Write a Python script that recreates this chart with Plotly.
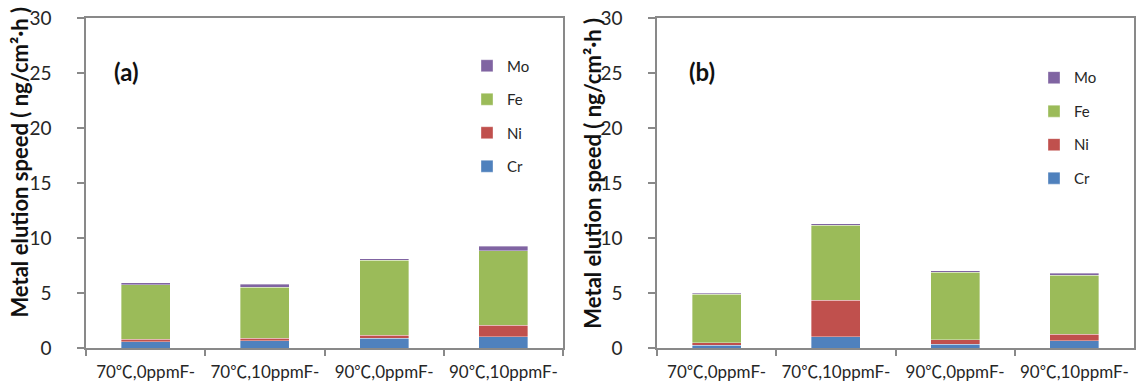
import plotly.graph_objects as go

categories = ["70℃,0ppmF-", "70℃,10ppmF-", "90℃,0ppmF-", "90℃,10ppmF-"]
metals = ["Cr", "Ni", "Fe", "Mo"]
metal_colors = ["#4F81BD", "#C0504D", "#9BBB59", "#8064A2"]
legend_ranks = [4, 3, 2, 1]

# Panel (a)
a_cr = [0.55, 0.65, 0.90, 1.02]
a_ni = [0.25, 0.25, 0.27, 1.05]
a_fe = [4.95, 4.62, 6.79, 6.79]
a_mo = [0.20, 0.28, 0.16, 0.40]

# Panel (b)
b_cr = [0.25, 1.01, 0.34, 0.64]
b_ni = [0.24, 3.35, 0.43, 0.62]
b_fe = [4.39, 6.81, 6.13, 5.37]
b_mo = [0.12, 0.12, 0.12, 0.18]

panel_a = [a_cr, a_ni, a_fe, a_mo]
panel_b = [b_cr, b_ni, b_fe, b_mo]

y_title = "Metal elution speed ( ng/cm²·h )"

W, H = 1137, 388
FONT = "Lato, 'Noto Sans CJK JP'"
TXT = "#262626"
AX = "#898989"

fig = go.Figure()
for panel, xa, ya, leg in [(panel_a, "x", "y", "legend"), (panel_b, "x2", "y2", "legend2")]:
    for i, (name, col) in enumerate(zip(metals, metal_colors)):
        fig.add_trace(go.Bar(x=categories, y=panel[i], name=name, marker_color=col,
                             marker_line=dict(color="rgba(255,255,255,0.6)", width=0.6),
                             xaxis=xa, yaxis=ya, legend=leg, legendgroup=leg + name,
                             legendrank=legend_ranks[i]))

xcommon = dict(type="category", showline=True, linecolor=AX, linewidth=1.5, mirror=True,
               ticks="outside", tickson="boundaries", ticklen=6, tickcolor=AX, tickwidth=1.5,
               tickfont=dict(family=FONT, size=17, color=TXT), showgrid=False,
               automargin=False, ticklabelstandoff=8, tickangle=0)
ycommon = dict(range=[0, 30], dtick=5, showline=True, linecolor=AX, linewidth=1.5, mirror=True,
               ticks="outside", ticklen=7, tickcolor=AX, tickwidth=1.5,
               tickfont=dict(family=FONT, size=19, color=TXT), showgrid=False, zeroline=False,
               automargin=False, ticklabelstandoff=22)

legcommon = dict(traceorder="grouped", tracegroupgap=11, bgcolor="rgba(0,0,0,0)",
                 font=dict(family=FONT, size=15, color=TXT), xanchor="left", yanchor="top",
                 itemwidth=30)

title_font = dict(family=FONT, size=22, color="#111", weight="bold")
label_font = dict(family=FONT, size=24, color="#111", weight="bold")

fig.update_layout(
    width=W, height=H,
    margin=dict(l=0, r=0, t=18, b=40),
    paper_bgcolor="white", plot_bgcolor="white",
    barmode="stack", bargap=0.59,
    xaxis=dict(domain=[86 / W, 563 / W], anchor="y", **xcommon),
    yaxis=dict(anchor="x", **ycommon),
    xaxis2=dict(domain=[657 / W, 1134 / W], anchor="y2", **xcommon),
    yaxis2=dict(anchor="x2", **ycommon),
    legend=dict(x=467 / W, y=1 - 37 / H, **legcommon),
    legend2=dict(x=1034 / W, y=1 - 51 / H, **legcommon),
    annotations=[
        dict(text=y_title, x=20 / W, y=1 - 170 / H, xref="paper", yref="paper", showarrow=False,
             textangle=-90, xanchor="center", yanchor="middle", font=title_font),
        dict(text=y_title, x=593 / W, y=1 - 183 / H, xref="paper", yref="paper", showarrow=False,
             textangle=-90, xanchor="center", yanchor="middle", font=title_font),
        dict(text="(a)", x=126 / W, y=1 - 63 / H, xref="paper", yref="paper", showarrow=False,
             xanchor="center", yanchor="middle", font=label_font),
        dict(text="(b)", x=702 / W, y=1 - 63 / H, xref="paper", yref="paper", showarrow=False,
             xanchor="center", yanchor="middle", font=label_font),
    ],
)

fig.write_html("out.html", config={"displayModeBar": False},
               post_script="document.body.style.margin='0';")
